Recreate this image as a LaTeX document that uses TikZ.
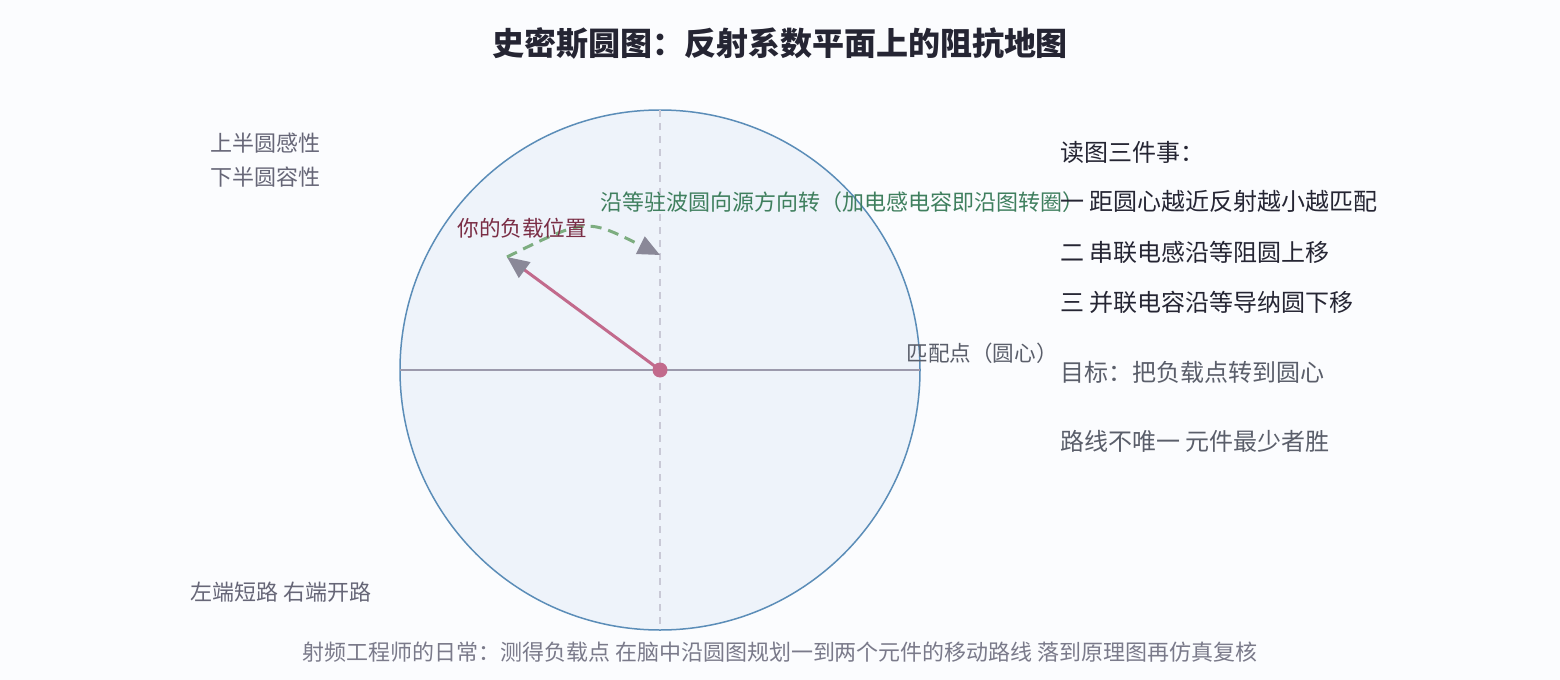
\documentclass[tikz,border=0pt]{standalone}
\usepackage{fontspec}
\setmainfont{Noto Sans CJK SC}
\usetikzlibrary{arrows.meta, calc}

\definecolor{bgc}{HTML}{FBFCFE}
\definecolor{disk}{HTML}{EEF3FA}
\definecolor{rim}{HTML}{5B8DB8}
\definecolor{axisc}{HTML}{9C9AAC}
\definecolor{guide}{HTML}{C9C9D6}
\definecolor{loadc}{HTML}{C26A8C}
\definecolor{tipc}{HTML}{8A8898}
\definecolor{pathc}{HTML}{7DAD80}
\definecolor{pathtxt}{HTML}{3F7F5E}
\definecolor{loadtxt}{HTML}{7A2D45}
\definecolor{ink}{HTML}{252533}
\definecolor{soft}{HTML}{5A5E6A}
\definecolor{side}{HTML}{666677}
\definecolor{foot}{HTML}{7A7A8A}

\newcommand{\px}[1]{\fontsize{#1}{#1}\selectfont}

\begin{document}
\begin{tikzpicture}[x=0.5pt, y=-0.5pt,
	txt/.style={inner sep=0pt, anchor=west},
	>={Triangle[length=11pt, width=9.5pt, color=tipc, fill=tipc]}]
	\useasboundingbox (0,0) rectangle (1560,680);
	\fill [bgc] (0,0) rectangle (1560,680);

	% chart
	\coordinate (O) at (660,370);
	\filldraw [fill=disk, draw=rim, line width=0.75pt] (O) circle [radius=130pt];
	\draw [guide, line width=0.75pt, dash pattern=on 3.5pt off 3pt] (660,110) -- (660,630);
	\draw [axisc, line width=1pt] (400,370) -- (920,370);

	% load and rotation
	\coordinate (load) at (507,257);
	\coordinate (turn) at (660,255);
	\draw [loadc, line width=1.5pt, ->] (O) -- (load);
	\draw [pathc, line width=1.5pt, dash pattern=on 5.5pt off 3.5pt, ->]
		(load) .. controls (586,218) .. (turn);
	\node [circle, fill=loadc, inner sep=0pt, minimum size=7.5pt] (match) at (O) {};

	\node [txt, text=pathtxt] (rot) at (600,202) {\px{11pt}沿等驻波圆向源方向转（加电感电容即沿图转圈）};
	\node [txt, text=loadtxt] (loadlbl) at (457,228) {\px{10.8pt}你的负载位置};
	\node [txt, text=soft] (matchlbl) at (906,353) {\px{10.8pt}匹配点（圆心）};

	% title
	\node [inner sep=0pt, text=ink] (title) at (780,43) {\px{16pt}\bfseries 史密斯圆图：反射系数平面上的阻抗地图};

	% left notes
	\node [txt, text=side] (upper) at (210,143) {\px{11pt}上半圆感性};
	\node [txt, text=side] (lower) at (210,177) {\px{11pt}下半圆容性};
	\node [txt, text=side] (ends) at (190,592) {\px{11pt}左端短路 右端开路};

	% right notes
	\node [txt, text=ink] (head) at (1060,152) {\px{12pt}读图三件事：};
	\node [txt, text=ink] (one) at (1060,201) {\px{12pt}一 距圆心越近反射越小越匹配};
	\node [txt, text=ink] (two) at (1060,252) {\px{12pt}二 串联电感沿等阻圆上移};
	\node [txt, text=ink] (three) at (1060,302) {\px{12pt}三 并联电容沿等导纳圆下移};
	\node [txt, text=soft] (goal) at (1060,372) {\px{12pt}目标：把负载点转到圆心};
	\node [txt, text=soft] (route) at (1060,441) {\px{12pt}路线不唯一 元件最少者胜};

	% caption
	\node [inner sep=0pt, text=foot] (caption) at (780,652) {\px{11pt}射频工程师的日常：测得负载点 在脑中沿圆图规划一到两个元件的移动路线 落到原理图再仿真复核};
\end{tikzpicture}
\end{document}
